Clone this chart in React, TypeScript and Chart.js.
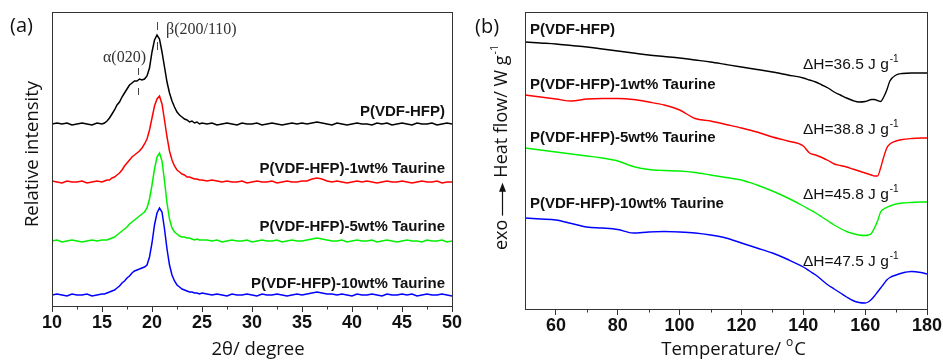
import { useEffect, useRef } from "react";
import { Chart, registerables } from "chart.js";

Chart.register(...registerables);

// ---------- (a) XRD data ----------
const TWO_THETA = [
  10, 10.5, 11, 11.5, 12, 12.5, 13, 13.5, 14, 14.5, 15,
  15.25, 15.5, 15.75, 16, 16.25, 16.5, 16.75, 17, 17.25, 17.5,
  17.75, 18, 18.25, 18.5, 18.75, 19, 19.25, 19.5, 19.75, 20,
  20.25, 20.5, 20.75, 21, 21.25, 21.5, 21.75, 22, 22.25, 22.5,
  22.75, 23, 23.25, 23.5, 23.75, 24, 24.25, 24.5, 24.75, 25,
  25.5, 26, 26.5, 27, 27.5, 28, 28.5, 29, 29.5, 30,
  30.5, 31, 31.5, 32, 32.5, 33, 33.5, 34, 34.5, 35,
  35.5, 36, 36.5, 37, 37.5, 38, 38.5, 39, 39.5, 40,
  40.5, 41, 41.5, 42, 42.5, 43, 43.5, 44, 44.5, 45,
  45.5, 46, 46.5, 47, 47.5, 48, 48.5, 49, 49.5, 50,
];

const XRD_NEAT = [
  0, 1, 0, 1, -1, 0, 1, 0, -1, 1, 0,
  1, 3, 6, 10, 14, 19, 22, 27, 31, 35,
  39, 41, 43, 43, 45, 44, 45, 48, 56, 72,
  84, 89, 85, 72, 57, 42, 31, 23, 17, 12,
  9, 7, 5, 4, 2, 3, 1, 2, 0, 1,
  0, 1, -1, 0, 1, 0, -1, 1, 0, 0,
  1, -1, 0, 1, 0, -1, 0, 1, 0, 1,
  0, 1, 2, 1, 0, -1, 1, 0, -1, 0,
  1, 0, 0, -1, 1, 0, 1, -1, 0, 1,
  0, -1, 1, 0, 0, 1, -1, 0, 1, 0,
];

const XRD_1WT = [
  1, 0, -1, 1, 0, 0, 1, -1, 0, 1, 0,
  1, 2, 2, 4, 5, 7, 9, 12, 16, 19,
  22, 25, 27, 29, 31, 34, 38, 43, 52, 64,
  76, 83, 86, 78, 62, 45, 31, 22, 16, 12,
  10, 8, 7, 5, 5, 4, 3, 3, 2, 2,
  1, 2, 1, 0, 1, 0, 0, 1, -1, 0,
  1, 0, 0, 1, -1, 0, 1, 0, 0, 1,
  1, 3, 4, 3, 1, 0, 1, 0, -1, 0,
  1, 0, 1, 0, -1, 0, 1, 0, 0, 1,
  0, -1, 0, 1, 0, 0, 1, -1, 0, 0,
];

const XRD_5WT = [
  0, 1, -1, 0, 1, 0, -1, 0, 1, 0, 1,
  1, 1, 2, 3, 4, 6, 8, 10, 12, 14,
  17, 19, 21, 23, 25, 27, 29, 33, 42, 56,
  72, 84, 88, 80, 60, 38, 22, 13, 9, 7,
  5, 4, 4, 3, 3, 2, 1, 2, 1, 1,
  1, 0, 1, -1, 0, 1, 0, 0, 1, -1,
  0, 1, 0, 0, 1, -1, 0, 1, 0, 0,
  1, 2, 3, 2, 1, 0, 0, 1, -1, 0,
  1, 0, 0, 1, -1, 0, 1, 0, -1, 0,
  1, 0, 0, -1, 1, 0, 0, 1, -1, 0,
];

const XRD_10WT = [
  0, 1, 0, -1, 1, 0, 0, 1, -1, 0, 1,
  1, 2, 3, 4, 5, 7, 9, 12, 14, 17,
  19, 22, 24, 25, 26, 27, 28, 30, 38, 52,
  70, 82, 87, 83, 66, 46, 30, 20, 14, 10,
  8, 6, 5, 4, 3, 3, 2, 2, 1, 2,
  1, 0, 1, 0, -1, 1, 0, 0, 1, 0,
  -1, 1, 0, 0, 1, 0, -1, 0, 1, 0,
  1, 2, 3, 2, 1, 1, 0, 1, 0, -1,
  1, 0, 0, 1, 0, -1, 1, 0, 0, 1,
  0, 1, -1, 0, 1, 0, 0, 1, 0, -1,
];

const XRD_OFFSETS = [182, 124, 65, 11];
const XRD_TICKS = [10, 15, 20, 25, 30, 35, 40, 45, 50];
const XRD_MINOR = [12.5, 17.5, 22.5, 27.5, 32.5, 37.5, 42.5, 47.5];

// ---------- (b) DSC data ----------
const TEMP = [
  50, 55, 60, 65, 70, 75, 80, 85, 90, 95, 100, 105, 110, 115, 120, 125, 130, 135, 140,
  142, 144, 146, 148, 150, 152, 154, 156, 158,
  160, 161, 162, 163, 164, 165, 166, 167, 168,
  170, 172, 175, 178, 180,
];

const DSC_NEAT = [
  267, 266, 265, 263.5, 262, 260, 258, 256, 254, 252.5, 251, 249, 247, 244.5, 242, 239.5, 237, 234, 231,
  229, 227, 224, 221, 217, 214, 211, 208.5, 207,
  207.5, 208.5, 209.5, 209.5, 208.5, 207.5, 212, 219, 228,
  234, 235.5, 236, 236, 236,
];

const DSC_1WT = [
  214, 212, 210, 208, 210, 210.5, 210.5, 209.5, 207, 204, 199, 190.5, 188, 184.5, 181, 177, 172, 168, 163,
  156, 154, 151.5, 148.5, 145, 143.5, 142, 140, 138,
  136, 135, 134, 133, 133, 141, 152, 161, 165,
  168, 169.5, 170.5, 171, 171,
];

const DSC_5WT = [
  161, 159, 157, 155, 153, 151, 148, 142.5, 139.5, 138.5, 138, 136.5, 134, 131.5, 129, 124, 118, 111, 103,
  99.5, 96, 92, 88, 84, 80.5, 77.5, 75.5, 74,
  73.5, 74, 75.5, 81, 88, 97, 100, 101.5, 103,
  105, 106, 106.5, 107, 107,
];

const DSC_10WT = [
  91, 90, 89, 85.5, 82, 81, 79.5, 76, 77, 77.5, 77, 76, 74, 71, 66, 61, 56, 49.5, 42,
  38, 34, 29, 24, 20, 16, 12, 8.5, 6.5,
  6, 7, 9.5, 13, 17, 21, 25, 29, 31.5,
  34, 36, 37.5, 36.5, 35,
];

const DSC_TICKS = [60, 80, 100, 120, 140, 160, 180];
const DSC_MINOR = [70, 90, 110, 130, 150, 170];
const DELTA_H = ["36.5", "38.8", "45.8", "47.5"];

const SAMPLE_LABELS = [
  "P(VDF-HFP)",
  "P(VDF-HFP)-1wt% Taurine",
  "P(VDF-HFP)-5wt% Taurine",
  "P(VDF-HFP)-10wt% Taurine",
];

const COLORS = ["#000000", "#ff0000", "#00f000", "#0000ff"];
const SANS = '"Open Sans", "Liberation Sans", sans-serif';
const BOLD = '"Liberation Sans", Arial, sans-serif';
const SERIF = '"Liberation Serif", "Times New Roman", serif';
const INK = "#111111";
const AXIS = "#333333";

function drawMinorTicks(chart: any, values: number[]) {
  const { ctx, chartArea: a, scales } = chart;
  ctx.save();
  ctx.strokeStyle = AXIS;
  ctx.lineWidth = 1;
  ctx.beginPath();
  values.forEach((v) => {
    const x = Math.round(scales.x.getPixelForValue(v)) + 0.5;
    ctx.moveTo(x, a.bottom);
    ctx.lineTo(x, a.bottom + 3.5);
  });
  ctx.stroke();
  ctx.strokeRect(a.left + 0.5, a.top + 0.5, a.right - a.left, a.bottom - a.top);
  ctx.restore();
}

function textWithSup(ctx: any, base: string, sup: string, x: number, y: number, size: number, supSize: number, rise: number) {
  ctx.font = `${size}px ${BOLD}`;
  ctx.fillText(base, x, y);
  const w = ctx.measureText(base).width;
  ctx.font = `${supSize}px ${BOLD}`;
  ctx.fillText(sup, x + w + 1, y - rise);
}

function xScale(min: number, max: number, ticks: number[], height: number) {
  return {
    type: "linear" as const,
    min,
    max,
    afterBuildTicks: (s: any) => {
      s.ticks = ticks.map((v) => ({ value: v }));
    },
    afterFit: (s: any) => {
      s.height = height;
      s.paddingLeft = 0;
      s.paddingRight = 0;
    },
    ticks: {
      autoSkip: false,
      maxRotation: 0,
      padding: 0,
      color: INK,
      font: { family: BOLD, size: 18, weight: "bold" as const },
    },
    grid: {
      display: true,
      drawOnChartArea: false,
      drawTicks: true,
      tickLength: 6,
      color: AXIS,
      lineWidth: 1,
    },
    border: { display: false },
  };
}

function yScale(max: number, width: number) {
  return {
    type: "linear" as const,
    min: 0,
    max,
    afterFit: (s: any) => {
      s.width = width;
      s.paddingTop = 0;
      s.paddingBottom = 0;
    },
    ticks: { display: false },
    grid: { display: false },
    border: { display: false },
  };
}

export default function App() {
  const refA = useRef<HTMLCanvasElement>(null);
  const refB = useRef<HTMLCanvasElement>(null);

  useEffect(() => {
    const xrdSeries = [XRD_NEAT, XRD_1WT, XRD_5WT, XRD_10WT];
    const chartA = new Chart(refA.current as HTMLCanvasElement, {
      type: "line",
      data: {
        datasets: xrdSeries.map((arr, i) => ({
          label: SAMPLE_LABELS[i],
          data: TWO_THETA.map((t, j) => ({ x: t, y: XRD_OFFSETS[i] + arr[j] })),
          borderColor: COLORS[i],
          borderWidth: 1.5,
          pointRadius: 0,
          tension: 0,
          fill: false,
        })),
      },
      options: {
        responsive: false,
        animation: false,
        devicePixelRatio: 1,
        events: [],
        layout: { padding: { left: 0, right: 18, top: 12, bottom: 0 } },
        plugins: { legend: { display: false }, tooltip: { enabled: false } },
        scales: {
          x: xScale(10, 50, XRD_TICKS, 54),
          y: yScale(294, 52),
        },
      },
      plugins: [
        {
          id: "decorA",
          afterDraw(chart: any) {
            const { ctx, chartArea: a } = chart;
            drawMinorTicks(chart, XRD_MINOR);
            ctx.save();
            ctx.fillStyle = INK;
            // panel letter
            ctx.font = `20px ${SANS}`;
            ctx.textAlign = "left";
            ctx.textBaseline = "middle";
            ctx.fillText("(a)", 10, 26);
            // sample labels
            ctx.font = `bold 15px ${BOLD}`;
            ctx.textAlign = "right";
            const ys = [112, 169, 227, 284];
            SAMPLE_LABELS.forEach((l, i) => ctx.fillText(l, a.right - 7, ys[i]));
            // peak annotations
            ctx.fillStyle = "#333";
            ctx.font = `16px ${SERIF}`;
            ctx.textAlign = "center";
            ctx.fillText("\u03b1(020)", 124.5, 58);
            ctx.textAlign = "left";
            ctx.fillText("\u03b2(200/110)", 166, 30);
            ctx.strokeStyle = "#444";
            ctx.lineWidth = 1;
            ctx.setLineDash([8, 12]);
            const xb = Math.round(chart.scales.x.getPixelForValue(20.5)) + 0.5;
            ctx.beginPath();
            ctx.moveTo(xb, 22);
            ctx.lineTo(xb, 52);
            ctx.stroke();
            ctx.setLineDash([7, 13]);
            const xa = Math.round(chart.scales.x.getPixelForValue(18.6)) + 0.5;
            ctx.beginPath();
            ctx.moveTo(xa, 68);
            ctx.lineTo(xa, 95);
            ctx.stroke();
            ctx.setLineDash([]);
            // axis titles
            ctx.fillStyle = INK;
            ctx.font = `18.5px ${SANS}`;
            ctx.textAlign = "center";
            ctx.fillText("2\u03b8/ degree", 258, 350);
            ctx.translate(33, 154);
            ctx.rotate(-Math.PI / 2);
            ctx.fillText("Relative intensity", 0, 0);
            ctx.restore();
          },
        },
      ],
    } as any);

    const dscSeries = [DSC_NEAT, DSC_1WT, DSC_5WT, DSC_10WT];
    const chartB = new Chart(refB.current as HTMLCanvasElement, {
      type: "line",
      data: {
        datasets: dscSeries.map((arr, i) => ({
          label: SAMPLE_LABELS[i],
          data: TEMP.map((t, j) => ({ x: t, y: arr[j] })),
          borderColor: COLORS[i],
          borderWidth: 1.4,
          pointRadius: 0,
          cubicInterpolationMode: "monotone",
          fill: false,
        })),
      },
      options: {
        responsive: false,
        animation: false,
        devicePixelRatio: 1,
        events: [],
        layout: { padding: { left: 0, right: 16, top: 12, bottom: 0 } },
        plugins: { legend: { display: false }, tooltip: { enabled: false } },
        scales: {
          x: xScale(50, 180, DSC_TICKS, 51),
          y: yScale(297, 55),
        },
      },
      plugins: [
        {
          id: "decorB",
          afterDraw(chart: any) {
            const { ctx, chartArea: a } = chart;
            drawMinorTicks(chart, DSC_MINOR);
            ctx.save();
            ctx.fillStyle = INK;
            ctx.font = `20px ${SANS}`;
            ctx.textAlign = "left";
            ctx.textBaseline = "middle";
            ctx.fillText("(b)", 5, 27);
            // sample labels
            ctx.font = `bold 15px ${BOLD}`;
            const ys = [30, 85, 138, 204];
            SAMPLE_LABELS.forEach((l, i) => ctx.fillText(l, a.left + 5, ys[i]));
            // enthalpy labels
            const hy = [65, 130, 195, 262];
            DELTA_H.forEach((h, i) =>
              textWithSup(ctx, `\u0394H=${h} J g`, "-1", 333, hy[i], 15.5, 10, 6)
            );
            // x title
            const t1 = "Temperature/ ";
            ctx.font = `18.5px ${SANS}`;
            const w1 = ctx.measureText(t1).width;
            ctx.font = `12px ${SANS}`;
            const w2 = ctx.measureText("o").width;
            ctx.font = `18.5px ${SANS}`;
            const w3 = ctx.measureText("C").width;
            const x0 = 263 - (w1 + w2 + w3) / 2;
            ctx.fillText(t1, x0, 350);
            ctx.font = `12px ${SANS}`;
            ctx.fillText("o", x0 + w1, 343);
            ctx.font = `18.5px ${SANS}`;
            ctx.fillText("C", x0 + w1 + w2 + 1, 350);
            // y title
            ctx.translate(32, 250);
            ctx.rotate(-Math.PI / 2);
            ctx.font = `18px ${SANS}`;
            ctx.fillText("exo", 0, 0);
            const we = ctx.measureText("exo").width;
            ctx.strokeStyle = INK;
            ctx.lineWidth = 1.2;
            ctx.beginPath();
            ctx.moveTo(we + 4, 0.5);
            ctx.lineTo(we + 30, 0.5);
            ctx.stroke();
            ctx.beginPath();
            ctx.moveTo(we + 37, 0.5);
            ctx.lineTo(we + 28, -3);
            ctx.lineTo(we + 28, 4);
            ctx.closePath();
            ctx.fill();
            const hx = we + 42;
            ctx.fillText("Heat flow/ W g", hx, 0);
            const wh = ctx.measureText("Heat flow/ W g").width;
            ctx.font = `11px ${SANS}`;
            ctx.fillText("-1", hx + wh + 1, -7);
            ctx.restore();
          },
        },
      ],
    } as any);

    return () => {
      chartA.destroy();
      chartB.destroy();
    };
  }, []);

  return (
    <div style={{ position: "absolute", left: 0, top: 0, width: 943, height: 360, background: "#fff" }}>
      <canvas ref={refA} width={470} height={360} style={{ position: "absolute", left: 0, top: 0 }} />
      <canvas ref={refB} width={473} height={360} style={{ position: "absolute", left: 470, top: 0 }} />
    </div>
  );
}
